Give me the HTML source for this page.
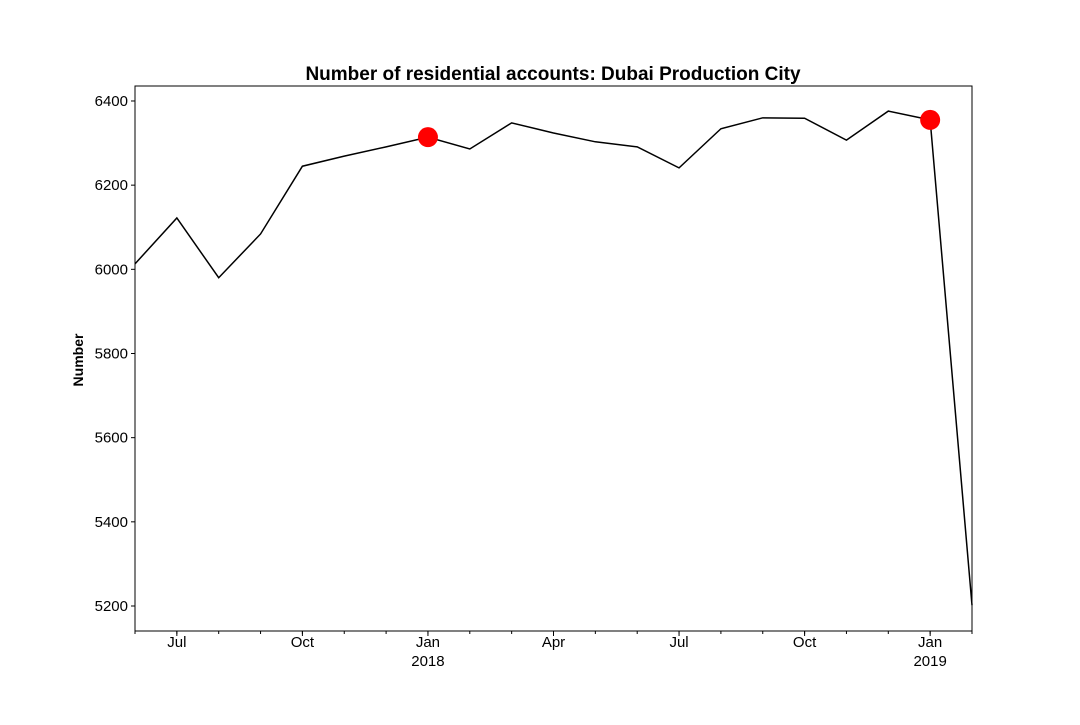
<!DOCTYPE html>
<html><head><meta charset="utf-8"><style>
body{margin:0;background:#fff;}
svg text{font-family:"Liberation Sans","DejaVu Sans",sans-serif;}
</style></head><body>
<svg id="chart" width="1080" height="720" xmlns="http://www.w3.org/2000/svg">
<rect width="1080" height="720" fill="#fff"/>
<text x="553" y="80" text-anchor="middle" font-size="19" font-weight="bold">Number of residential accounts: Dubai Production City</text>
<text transform="translate(83,360) rotate(-90)" text-anchor="middle" font-size="14" font-weight="bold">Number</text>
<g id="plot"></g>
<rect x="135" y="86" width="837" height="545" fill="none" stroke="#000" stroke-width="1"/>
</svg>
<script>
const months = ["2017-06","2017-07","2017-08","2017-09","2017-10","2017-11","2017-12","2018-01","2018-02","2018-03","2018-04","2018-05","2018-06","2018-07","2018-08","2018-09","2018-10","2018-11","2018-12","2019-01","2019-02"];
const values = [6013,6122,5980,6084,6245,6269,6291,6314,6286,6348,6324,6303,6291,6241,6334,6360,6359,6307,6376,6355,5202];
const highlightIdx = [7,19];
const yTicks = [5200,5400,5600,5800,6000,6200,6400];
const xLabels = [[1,"Jul",""],[4,"Oct",""],[7,"Jan","2018"],[10,"Apr",""],[13,"Jul",""],[16,"Oct",""],[19,"Jan","2019"]];

const X0=135,X1=972,Y0=86,Y1=631;
const yMin=5140.6,yMax=6435.6;
const x=i=>X0+(X1-X0)*i/(months.length-1);
const y=v=>Y1-(v-yMin)/(yMax-yMin)*(Y1-Y0);
const NS="http://www.w3.org/2000/svg";
const g=document.getElementById('plot');
function mk(t,a){const e=document.createElementNS(NS,t);for(const k in a)e.setAttribute(k,a[k]);g.appendChild(e);return e;}

yTicks.forEach(v=>{
  const t=mk('line',{x1:X0-4,x2:X0,y1:y(v),y2:y(v),stroke:'#000'});
  
  
  const l=mk('text',{x:X0-7,y:y(v)+5,'text-anchor':'end','font-size':15});
  l.textContent=v;
  
  
});
months.forEach((m,i)=>{
  const t=mk('line',{x1:x(i),x2:x(i),y1:Y1,y2:Y1+3,stroke:'#000'});
  
  
});
xLabels.forEach(([i,a,b])=>{
  const t=mk('line',{x1:x(i),x2:x(i),y1:Y1,y2:Y1+5,stroke:'#000'});
  
  
  const l=mk('text',{x:x(i),y:Y1+16,'text-anchor':'middle','font-size':15});
  l.textContent=a;
  
  
  if(b){const l2=mk('text',{x:x(i),y:Y1+35,'text-anchor':'middle','font-size':15});
    l2.textContent=b;
    
    }
});
const line=mk('polyline',{points:values.map((v,i)=>x(i)+','+y(v)).join(' '),fill:'none',stroke:'#000','stroke-width':1.5});


highlightIdx.forEach(i=>{
  const c=mk('circle',{cx:x(i),cy:y(values[i]),r:10,fill:'#ff0000'});
  
  
});
</script>
</body></html>
